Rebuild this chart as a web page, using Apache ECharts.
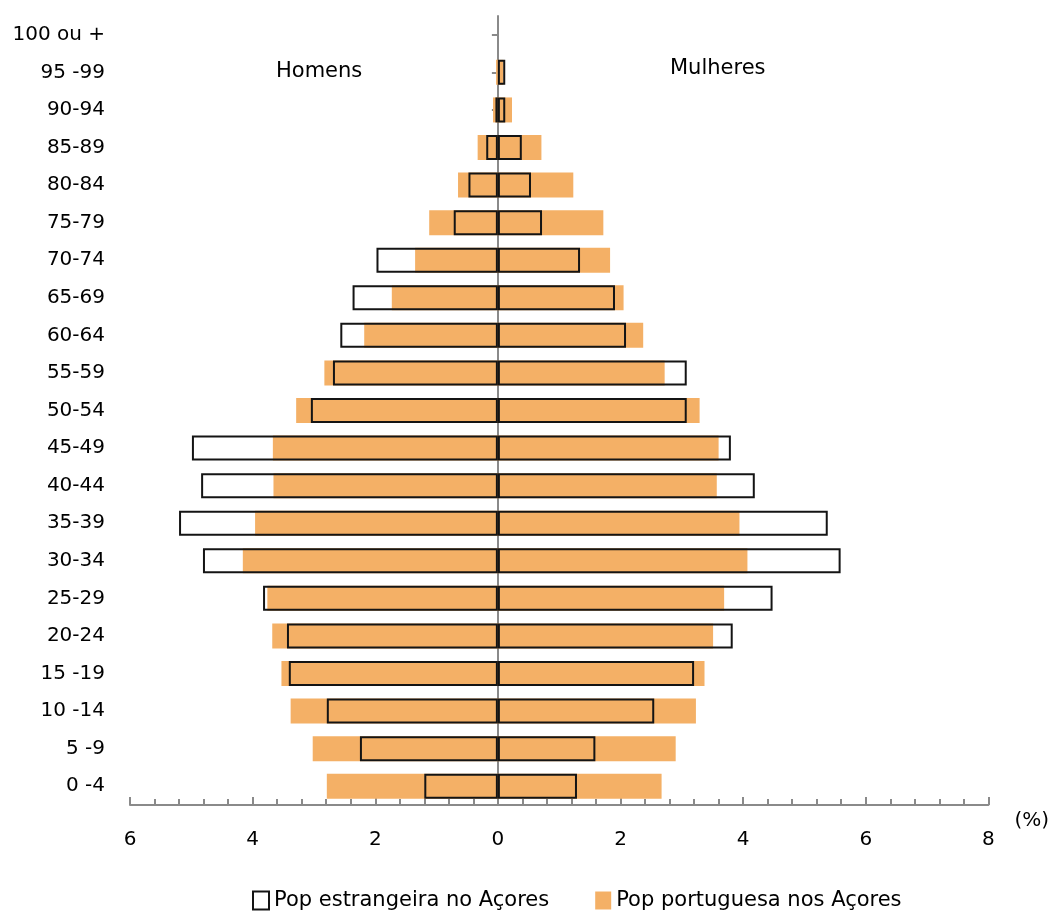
<!DOCTYPE html>
<html>
<head>
<meta charset="utf-8">
<script src="https://cdn.jsdelivr.net/npm/echarts@6/dist/echarts.min.js"></script>
<style>
html,body{margin:0;padding:0;background:#fff;}
#chart{width:1052px;height:914px;}
</style>
</head>
<body>
<div id="chart"></div>
<script>
// Age groups, bottom to top
const categories = ['0 -4','5 -9','10 -14','15 -19','20-24','25-29','30-34','35-39','40-44','45-49','50-54','55-59','60-64','65-69','70-74','75-79','80-84','85-89','90-94','95 -99','100 ou +'];

// Homens (men) - % values
const menForeign = [1.20, 2.25, 2.79, 3.41, 3.44, 3.83, 4.81, 5.20, 4.84, 4.99, 3.05, 2.69, 2.57, 2.37, 1.98, 0.72, 0.48, 0.19, 0.04, 0.00, 0.00];
const menPortuguese = [2.79, 3.02, 3.38, 3.53, 3.68, 3.76, 4.16, 3.96, 3.66, 3.67, 3.29, 2.83, 2.18, 1.73, 1.35, 1.12, 0.65, 0.33, 0.08, 0.03, 0.00];

// Mulheres (women) - % values
const womenForeign = [1.29, 1.59, 2.55, 3.20, 3.83, 4.48, 5.59, 5.38, 4.19, 3.80, 3.08, 3.08, 2.09, 1.91, 1.34, 0.72, 0.54, 0.39, 0.12, 0.12, 0.00];
const womenPortuguese = [2.67, 2.90, 3.23, 3.37, 3.51, 3.69, 4.07, 3.94, 3.57, 3.60, 3.29, 2.72, 2.37, 2.05, 1.83, 1.72, 1.23, 0.71, 0.23, 0.09, 0.00];

const seriesNames = ['Pop estrangeira no Açores', 'Pop portuguesa nos Açores'];
const xTicks = { min: -6, max: 8, interval: 2 };

const FONT = 'DejaVu Sans';
const ORANGE = '#F4B066';
const GRAY = '#8a8a8a';

const chart = echarts.init(document.getElementById('chart'));

const foreignStyle = { color: 'rgba(0,0,0,0)', borderColor: '#141414', borderWidth: 2 };
const portStyle = { color: ORANGE };

// zero values are left empty so no zero-width outline is drawn
const left = arr => arr.map(v => (v === 0 ? '-' : -v));
const right = arr => arr.map(v => (v === 0 ? '-' : v));

chart.setOption({
  backgroundColor: '#fff',
  animation: false,
  textStyle: { fontFamily: FONT },
  grid: { left: 130, right: 62, top: 16, bottom: 109, containLabel: false },
  legend: {
    data: seriesNames,
    left: 247,
    top: 885,
    itemWidth: 16,
    itemHeight: 18,
    itemGap: 46,
    icon: 'rect',
    textStyle: { fontFamily: FONT, fontSize: 21, color: '#000' }
  },
  graphic: [
    { type: 'text', left: 276, top: 61, style: { text: 'Homens', font: '21px "DejaVu Sans"', fill: '#000' } },
    { type: 'text', left: 670, top: 58, style: { text: 'Mulheres', font: '21px "DejaVu Sans"', fill: '#000' } }
  ],
  xAxis: {
    type: 'value',
    min: xTicks.min,
    max: xTicks.max,
    interval: xTicks.interval,
    name: '(%)',
    nameLocation: 'end',
    nameGap: 26,
    nameTextStyle: { fontFamily: FONT, fontSize: 20, color: '#000', verticalAlign: 'top', padding: [6, 0, 0, 0] },
    axisLine: { show: true, onZero: false, lineStyle: { color: GRAY, width: 2 } },
    axisTick: { show: true, inside: true, length: 8, lineStyle: { color: GRAY, width: 2 } },
    minorTick: { show: true, splitNumber: 5, length: 6, lineStyle: { color: GRAY, width: 2 } },
    splitLine: { show: false },
    minorSplitLine: { show: false },
    axisLabel: {
      fontFamily: FONT, fontSize: 20, color: '#000', margin: 25,
      formatter: v => String(Math.abs(v))
    }
  },
  yAxis: [
    {
      type: 'category',
      data: categories,
      position: 'left',
      axisLine: { show: false, onZero: false },
      axisTick: { show: false },
      axisLabel: { fontFamily: FONT, fontSize: 20, color: '#000', margin: 25 }
    },
    {
      type: 'category',
      data: categories,
      position: 'right',
      axisLine: { show: true, onZero: true, lineStyle: { color: GRAY, width: 2 } },
      axisTick: { show: true, inside: true, alignWithLabel: true, length: 6, lineStyle: { color: GRAY, width: 2 } },
      axisLabel: { show: false }
    }
  ],
  series: [
    {
      name: seriesNames[1], type: 'bar', yAxisIndex: 0, barWidth: 25, barGap: '-100%',
      itemStyle: portStyle, z: 1,
      data: left(menPortuguese)
    },
    {
      name: seriesNames[1], type: 'bar', yAxisIndex: 0, barWidth: 25, barGap: '-100%',
      itemStyle: portStyle, z: 1,
      data: right(womenPortuguese)
    },
    {
      name: seriesNames[0], type: 'bar', yAxisIndex: 0, barWidth: 25, barGap: '-100%',
      itemStyle: foreignStyle, z: 3,
      data: left(menForeign)
    },
    {
      name: seriesNames[0], type: 'bar', yAxisIndex: 0, barWidth: 25, barGap: '-100%',
      itemStyle: foreignStyle, z: 3,
      data: right(womenForeign)
    }
  ]
});
</script>
</body>
</html>
